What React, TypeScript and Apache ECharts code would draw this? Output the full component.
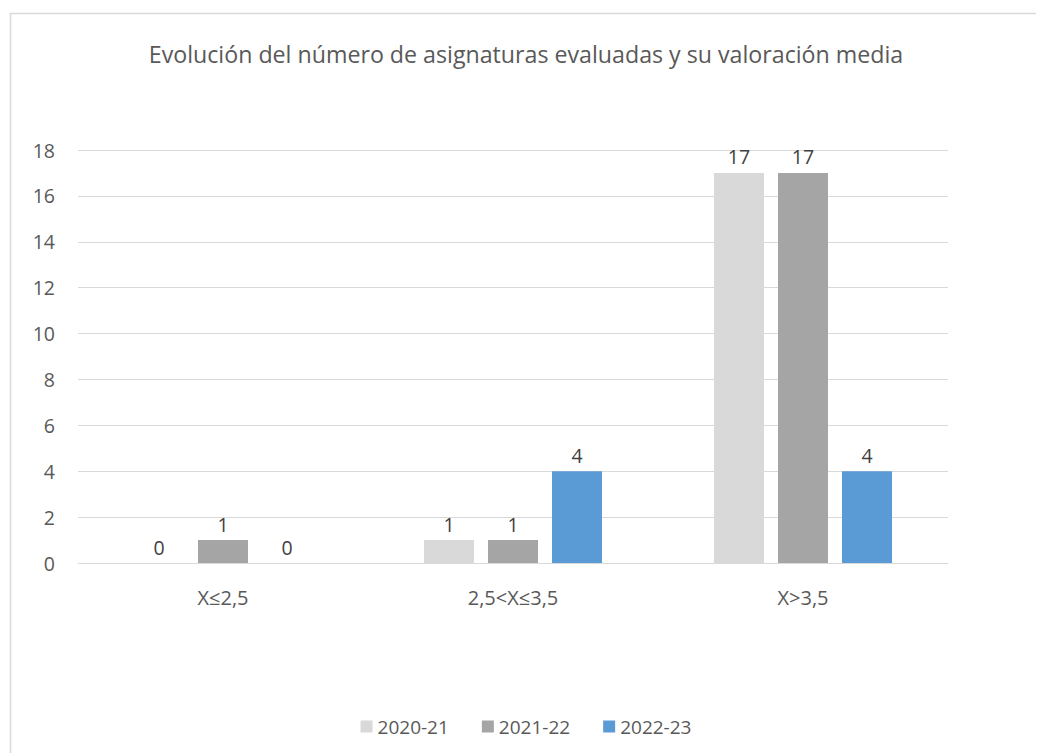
import React, { useEffect, useRef } from "react";
import * as echarts from "echarts";

const categories = ["X≤2,5", "2,5<X≤3,5", "X>3,5"];
const seriesNames = ["2020-21", "2021-22", "2022-23"];
const values2020 = [0, 1, 17];
const values2021 = [1, 1, 17];
const values2022 = [0, 4, 4];
const colors = ["#D9D9D9", "#A5A5A5", "#5B9BD5"];
const titleText = "Evolución del número de asignaturas evaluadas y su valoración media";

const FONT = "'Open Sans', 'Noto Sans', sans-serif";

export default function App() {
  const ref = useRef<HTMLDivElement>(null);
  useEffect(() => {
    if (!ref.current) return;
    const chart = echarts.init(ref.current, undefined, { renderer: "svg" });
    const data = [values2020, values2021, values2022];
    chart.setOption({
      animation: false,
      backgroundColor: "#ffffff",
      title: {
        text: titleText,
        left: "center",
        top: 29,
        textStyle: { fontFamily: FONT, fontSize: 23.2, fontWeight: "normal", color: "#595959" },
      },
      graphic: [
        {
          type: "rect",
          left: 0,
          top: 3,
          shape: { width: 1200, height: 900 },
          style: { fill: "none", stroke: "#D9D9D9", lineWidth: 1.5 },
          silent: true,
          z: -1,
        },
      ],
      legend: {
        bottom: 12,
        left: "center",
        itemWidth: 12,
        itemHeight: 12,
        itemGap: 33,
        icon: "rect",
        textStyle: { fontFamily: FONT, fontSize: 19, color: "#595959" },
        data: seriesNames,
      },
      grid: { left: 70, right: 96, top: 142, bottom: 190, containLabel: false },
      xAxis: {
        type: "category",
        data: categories,
        axisLine: { lineStyle: { color: "#D9D9D9", width: 1 } },
        axisTick: { show: false },
        axisLabel: { fontFamily: FONT, fontSize: 20, color: "#595959", margin: 24 },
      },
      yAxis: {
        type: "value",
        min: 0,
        max: 18,
        interval: 2,
        axisLine: { show: false },
        axisTick: { show: false },
        splitLine: { lineStyle: { color: "#D9D9D9", width: 1 } },
        axisLabel: { fontFamily: FONT, fontSize: 19.5, color: "#595959", margin: 23 },
      },
      series: seriesNames.map((name, i) => ({
        name,
        type: "bar",
        data: data[i],
        barWidth: 50,
        barGap: "28%",
        itemStyle: { color: colors[i] },
        label: {
          show: true,
          position: "top",
          distance: 6,
          fontFamily: FONT,
          fontSize: 19.5,
          color: "#404040",
        },
      })),
    });
    return () => chart.dispose();
  }, []);
  return <div ref={ref} style={{ width: 1036, height: 745 }} />;
}
